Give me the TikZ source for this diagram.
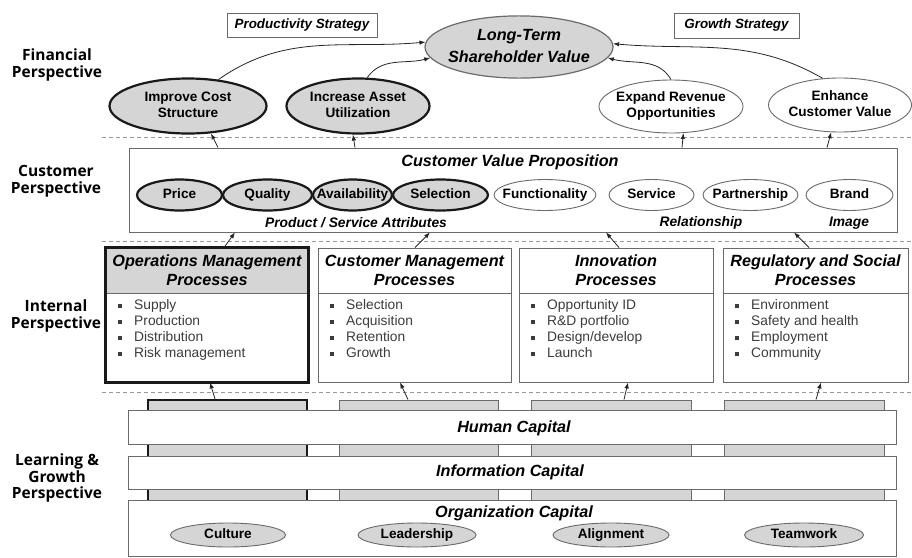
\documentclass[tikz,border=0pt]{standalone}
\usepackage{fontspec}
\setmainfont{Liberation Sans}
\newfontfamily\sidefont{Open Sans}
\usetikzlibrary{shapes.geometric, arrows.meta}
\definecolor{boxgray}{HTML}{D5D5D5}
\definecolor{linegray}{HTML}{6A6A6A}
\definecolor{itemgray}{HTML}{3C3C3C}
\newcommand{\elltext}[1]{\makebox[0pt]{\begin{tabular}{@{}c@{}}#1\end{tabular}}}
\newcommand{\sqb}{\raisebox{1.3pt}{\rule{4.5pt}{4.5pt}}\hspace{12pt}}

\begin{document}
\begin{tikzpicture}
[
x=1pt, y=1pt,
sidelabel/.style={font=\sidefont\bfseries\fontsize{15.5}{16.8}\selectfont, align=center},
stratbox/.style={rectangle, draw=linegray, line width=0.8pt, inner sep=0, font=\bfseries\itshape\fontsize{13.4}{15}\selectfont},
topgoal/.style={ellipse, draw=linegray, line width=1.2pt, fill=boxgray, inner sep=0, font=\bfseries\itshape\fontsize{16.2}{22}\selectfont},
keygoal/.style={ellipse, draw=black!90, line width=2.2pt, fill=boxgray, inner sep=0, font=\bfseries\fontsize{13.6}{16}\selectfont},
plaingoal/.style={ellipse, draw=linegray, line width=0.9pt, fill=white, inner sep=0, font=\bfseries\fontsize{13.6}{16}\selectfont},
capoval/.style={ellipse, draw=linegray, line width=0.9pt, fill=boxgray, inner sep=0, font=\bfseries\fontsize{13.6}{16}\selectfont},
panel/.style={rectangle, draw=linegray, line width=0.9pt, fill=white, inner sep=0},
head/.style={panel, align=center, font=\bfseries\itshape\fontsize{16.2}{19}\selectfont},
item/.style={anchor=base west, inner sep=0, text=itemgray, font=\fontsize{13.8}{15}\selectfont},
rowlabel/.style={inner sep=0, font=\bfseries\itshape\fontsize{13.8}{16}\selectfont},
title/.style={inner sep=0, font=\bfseries\itshape\fontsize{16.2}{18}\selectfont},
column/.style={rectangle, draw=linegray, line width=0.9pt, fill=boxgray, inner sep=0},
divider/.style={draw=black!40, line width=0.9pt, dash pattern=on 4pt off 3pt},
arr/.style={-{Latex[length=6pt,width=4.5pt]}, draw=black!85, line width=0.8pt}
]
\useasboundingbox (0,0) rectangle (912,-557);

%Perspectives
\node[sidelabel]	(pfin) at(57,-65) {Financial\\Perspective};
\node[sidelabel]	(pcus) at(56,-181) {Customer\\Perspective};
\node[sidelabel]	(pint) at(56,-316) {Internal\\Perspective};
\node[sidelabel]	(plrn) at(57,-478) {Learning \&\\Growth\\Perspective};

%Dividers
\coordinate (d1a) at(102,-137);	\coordinate (d1b) at(912,-137);
\coordinate (d2a) at(102,-241);	\coordinate (d2b) at(912,-241);
\coordinate (d3a) at(102,-392);	\coordinate (d3b) at(912,-392);
\draw[divider] (d1a) -- (d1b);
\draw[divider] (d2a) -- (d2b);
\draw[divider] (d3a) -- (d3b);

%Financial
\node[stratbox, minimum width=150, minimum height=24]	(prod) at(302,-25) {Productivity Strategy};
\node[stratbox, minimum width=125, minimum height=25]	(grow) at(736.5,-25.5) {Growth Strategy};
\node[topgoal, minimum width=188, minimum height=62]	(ltsv) at(519,-47) {\elltext{Long-Term\\Shareholder Value}};
\node[keygoal, minimum width=157, minimum height=55]	(ics) at(188,-106) {\elltext{Improve Cost\\Structure}};
\node[keygoal, minimum width=143, minimum height=55]	(ias) at(358,-106) {\elltext{Increase Asset\\Utilization}};
\node[plaingoal, minimum width=144, minimum height=53]	(exp) at(671,-106.5) {\elltext{Expand Revenue\\Opportunities}};
\node[plaingoal, minimum width=143, minimum height=54]	(enh) at(840,-105) {\elltext{Enhance\\Customer Value}};

\draw[arr] (ics.41) to[out=35, in=185] (ltsv.177);
\draw[arr] (ias.72) to[out=55, in=195] (ltsv.187);
\draw[arr] (exp.north) to[out=120, in=-15] (ltsv.-7);
\draw[arr] (enh.123) to[out=150, in=-5] (ltsv.2);

%Customer
\node[panel, minimum width=768, minimum height=84]	(cvp) at(513,-190) {};
\node[title]		(cvpt) at(510,-162) {Customer Value Proposition};
\node[keygoal, minimum width=85, minimum height=31]	(price) at(179.5,-195) {\elltext{Price}};
\node[keygoal, minimum width=89, minimum height=31]	(qual) at(267.5,-195) {\elltext{Quality}};
\node[keygoal, minimum width=79, minimum height=31]	(avail) at(352.5,-195) {\elltext{Availability}};
\node[keygoal, minimum width=95, minimum height=31]	(sel) at(440.5,-195) {\elltext{Selection}};
\node[plaingoal, minimum width=102, minimum height=31]	(func) at(545,-195) {\elltext{Functionality}};
\node[plaingoal, minimum width=85, minimum height=31]	(serv) at(651.5,-195) {\elltext{Service}};
\node[plaingoal, minimum width=95, minimum height=31]	(part) at(750.5,-195) {\elltext{Partnership}};
\node[plaingoal, minimum width=87, minimum height=31]	(brand) at(849.5,-195) {\elltext{Brand}};
\node[rowlabel]	(attr) at(356,-223) {Product / Service Attributes};
\node[rowlabel]	(rel) at(701,-223) {Relationship};
\node[rowlabel]	(img) at(849,-223) {Image};

\draw[arr] ([xshift=-295pt]cvp.north) -- (ics.-50);
\draw[arr] ([xshift=-158pt]cvp.north) -- (ias.-100);
\draw[arr] ([xshift=169pt]cvp.north) -- (exp.-65);
\draw[arr] ([xshift=314pt]cvp.north) -- (enh.-108);

%Internal
\node[head, fill=boxgray, minimum width=202, minimum height=45]	(oh1) at(207,-270.5) {Operations Management\\Processes};
\node[panel, minimum width=202, minimum height=89]	(ob1) at(207,-337.5) {};
\draw[linegray, line width=0.9pt] (oh1.south west) -- (oh1.south east);
\draw[black!90, line width=2.4pt] (oh1.north west) rectangle (ob1.south east);
\node[head, minimum width=193, minimum height=45]	(oh2) at(414.5,-270.5) {Customer Management\\Processes};
\node[panel, minimum width=193, minimum height=89]	(ob2) at(414.5,-337.5) {};
\node[head, minimum width=194, minimum height=45]	(oh3) at(616,-270.5) {Innovation\\Processes};
\node[panel, minimum width=194, minimum height=89]	(ob3) at(616,-337.5) {};
\node[head, minimum width=185, minimum height=45]	(oh4) at(815.5,-270.5) {Regulatory and Social\\Processes};
\node[panel, minimum width=185, minimum height=89]	(ob4) at(815.5,-337.5) {};

\node[item]	(o1) at(117.5,-309.5) {\sqb Supply};
\node[item]	(o2) at(117.5,-325.5) {\sqb Production};
\node[item]	(o3) at(117.5,-341.5) {\sqb Distribution};
\node[item]	(o4) at(117.5,-357.5) {\sqb Risk management};
\node[item]	(c1) at(329.5,-309.5) {\sqb Selection};
\node[item]	(c2) at(329.5,-325.5) {\sqb Acquisition};
\node[item]	(c3) at(329.5,-341.5) {\sqb Retention};
\node[item]	(c4) at(329.5,-357.5) {\sqb Growth};
\node[item]	(n1) at(530.5,-309.5) {\sqb Opportunity ID};
\node[item]	(n2) at(530.5,-325.5) {\sqb R\&D portfolio};
\node[item]	(n3) at(530.5,-341.5) {\sqb Design/develop};
\node[item]	(n4) at(530.5,-357.5) {\sqb Launch};
\node[item]	(r1) at(734.5,-309.5) {\sqb Environment};
\node[item]	(r2) at(734.5,-325.5) {\sqb Safety and health};
\node[item]	(r3) at(734.5,-341.5) {\sqb Employment};
\node[item]	(r4) at(734.5,-357.5) {\sqb Community};

\draw[arr] ([xshift=17pt]oh1.north) -- ([xshift=-278pt]cvp.south);
\draw[arr] ([xshift=0.5pt]oh2.north) -- ([xshift=-83pt]cvp.south);
\draw[arr] ([xshift=3pt]oh3.north) -- ([xshift=93pt]cvp.south);
\draw[arr] ([xshift=-6.5pt]oh4.north) -- ([xshift=281pt]cvp.south);

%Learning and growth
\node[column, line width=2.2pt, draw=black!90, minimum width=159, minimum height=156]	(lc1) at(227.5,-478) {};
\node[column, minimum width=159, minimum height=156]	(lc2) at(418.5,-478) {};
\node[column, minimum width=160, minimum height=156]	(lc3) at(611,-478) {};
\node[column, minimum width=160, minimum height=156]	(lc4) at(804,-478) {};
\node[panel, minimum width=768, minimum height=34]	(hum) at(512,-427) {};
\node[panel, minimum width=768, minimum height=33]	(inf) at(512,-472.5) {};
\node[panel, minimum width=768, minimum height=56]	(org) at(512,-528) {};
\node[title]	(humt) at(514,-428) {Human Capital};
\node[title]	(inft) at(510,-472) {Information Capital};
\node[title]	(orgt) at(514,-513) {Organization Capital};
\node[capoval, minimum width=115, minimum height=24]	(cult) at(228,-535) {\elltext{Culture}};
\node[capoval, minimum width=118, minimum height=24]	(lead) at(417,-535) {\elltext{Leadership}};
\node[capoval, minimum width=116, minimum height=24]	(align) at(611,-535) {\elltext{Alignment}};
\node[capoval, minimum width=119, minimum height=24]	(team) at(804,-535) {\elltext{Teamwork}};

\draw[arr] ([xshift=-12.5pt]lc1.north) -- ([xshift=3pt]ob1.south);
\draw[arr] ([xshift=-10.5pt]lc2.north) -- ([xshift=-14.5pt]ob2.south);
\draw[arr] ([xshift=13pt]lc3.north) -- ([xshift=12pt]ob3.south);
\draw[arr] ([xshift=12pt]lc4.north) -- ([xshift=5.5pt]ob4.south);

\end{tikzpicture}
\end{document}
